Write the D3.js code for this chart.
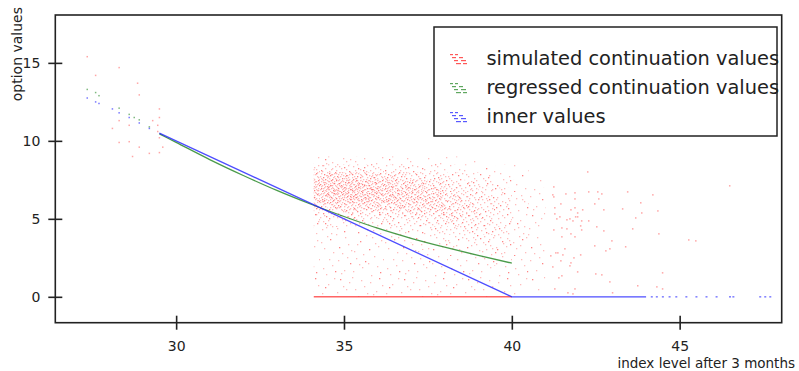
<!DOCTYPE html>
<html><head><meta charset="utf-8">
<script src="https://cdn.jsdelivr.net/npm/d3@7"></script>
<style>body{margin:0;background:#fff} svg{display:block} text{font-family:"DejaVu Sans",sans-serif;fill:#222}</style>
</head><body><svg id="c" width="799" height="371"></svg>
<script>
// ---------- data ----------
const xTicks = [30, 35, 40, 45];
const yTicks = [0, 5, 10, 15];
const xDomain = [26.4, 48.04];
const yDomain = [-1.66, 18.07];
const xLabel = "index level after 3 months";
const yLabel = "option values";
const legendLabels = ["simulated continuation values", "regressed continuation values", "inner values"];
const seriesColors = ["#ff2020", "#2a8a2a", "#2020ff"];

// density of simulated continuation values (estimated paths per 0.5 x 0.5 cell)
const cloudXEdges = [34.1, 34.5, 35, 35.5, 36, 36.5, 37, 37.5, 38, 38.5, 39, 39.5, 40, 40.5, 41];
const cloudYEdges = [0, 0.5, 1, 1.5, 2, 2.5, 3, 3.5, 4, 4.5, 5, 5.5, 6, 6.5, 7, 7.5, 8, 8.5, 9];
const cloudCounts = [
  [2,2,2,2,2,2,2,2,3,6,10,18,28,34,32,22,10,3],
  [2,2,2,2,2,2,2,2,3,6,10,20,30,36,34,24,10,3],
  [2,2,2,2,2,2,2,2,3,6,11,22,32,36,34,22,9,3],
  [2,2,2,2,2,2,2,2,3,6,11,22,32,34,30,20,8,2],
  [2,2,2,2,2,2,2,2,4,7,12,22,30,32,28,18,7,2],
  [2,2,2,2,2,2,2,3,4,8,13,22,28,28,24,14,6,2],
  [2,2,2,2,2,2,3,3,5,9,14,22,26,26,20,12,5,1],
  [2,2,2,2,2,2,3,4,6,10,16,22,24,22,16,10,4,1],
  [2,2,2,2,2,3,4,5,8,12,16,18,18,16,12,7,3,1],
  [2,2,2,2,2,3,4,6,8,11,13,14,14,12,9,5,2,1],
  [2,2,2,2,3,3,5,6,8,9,10,10,10,9,6,4,2,0],
  [1,2,2,2,3,4,5,6,6,7,7,7,7,6,4,3,1,0],
  [1,1,1,2,2,3,3,3,3,3,3,3,3,3,2,1,1,0],
  [1,1,1,1,2,2,2,2,2,2,2,2,2,2,1,1,0,0]
];
// isolated simulated continuation values
const simSparse = [
  [27.35,15.4],[28.3,14.7],[27.6,14.2],[28.85,13.7],[28.9,12.95],[29.5,12.05],[28.3,11.3],[29.3,11.3],
  [28.6,11.0],[28.1,10.8],[29.45,11.0],[29.5,11.5],[28.3,9.9],[28.6,9.95],[28.9,9.6],[29.5,10.2],
  [29.6,9.6],[29.5,9.25],[28.7,9.0],[29.2,9.2],[29.45,10.6],
  [42.26,8.01],[41.25,7.05],[41.22,6.54],[41.61,6.6],[41.88,6.67],[42.29,6.73],[42.56,6.73],[42.68,6.6],
  [43.45,6.73],[44.2,6.54],[46.49,7.12],[41.25,6.41],[41.46,5.96],[41.88,6.28],[42.47,5.96],[42.59,6.28],
  [41.28,5.71],[41.28,5.32],[41.34,5.0],[41.43,5.13],[41.76,5.58],[41.88,5.71],[41.96,5.38],[42.11,5.58],
  [42.74,5.58],[43.3,5.64],[43.84,6.03],[43.87,5.38],[44.35,5.51],[41.64,4.94],[41.73,5.0],[41.82,4.87],
  [41.9,5.13],[41.96,5.13],[42.08,4.87],[42.29,4.87],[43.69,5.06],[41.25,4.29],[41.49,4.42],[41.64,4.36],
  [41.76,4.04],[41.88,3.85],[42.05,4.55],[42.08,4.29],[42.53,4.49],[42.74,4.23],[43.6,4.36],[44.38,4.04],
  [41.49,3.85],[42.98,3.59],[45.27,3.65],[45.48,3.59],[42.47,3.27],[42.8,2.95],[42.92,3.08],[43.39,3.21],
  [41.58,3.08],[41.31,2.82],[41.37,2.82],[41.16,2.63],[41.52,2.69],[42.05,2.69],[41.85,2.5],[41.46,2.31],
  [41.76,2.18],[41.22,1.92],[41.73,1.99],[41.96,1.6],[42.5,1.47],[42.68,1.41],[44.49,1.54],[41.49,1.35],
  [41.4,1.22],[42.92,0.96],[43.75,0.71],[44.32,0.64],[44.49,0.51],[41.28,0.51],[41.88,0.51],[41.67,0.26],
  [41.82,0.19],[43.0,0.26]
];
const simZeroRange = [34.1, 40];           // paths with zero continuation value
const regressedLine = [[29.5,10.45],[30,9.9],[31,8.8],[32,7.78],[33,6.82],[34,5.95],[35,5.15],
  [36,4.4],[37,3.75],[38,3.18],[39,2.65],[40,2.16]];
const regressedSparse = [[27.35,13.3],[27.6,13.1],[27.7,12.9],[28.3,12.1],[28.6,11.7],[28.75,11.5],[28.9,11.35],[29.2,10.9]];
const innerLine = [[29.5,10.5],[40,0],[44.0,0]];
const innerSparse = [[27.35,12.75],[27.6,12.5],[27.7,12.4],[28.1,12.05],[28.3,11.8],[28.6,11.5],[28.9,11.15],[29.2,10.8]];
const innerZeroDots = [44.17,44.32,44.5,44.7,44.9,45.2,45.5,45.8,46.1,46.5,46.6,47.4,47.55,47.7];

// ---------- drawing ----------
const svg = d3.select("#c");
const m = {l: 55.3, r: 781.7, t: 15, b: 322.7};
const x = d3.scaleLinear().domain(xDomain).range([m.l, m.r]);
const y = d3.scaleLinear().domain(yDomain).range([m.b, m.t]);
const defs = svg.append("defs");

// speckle texture for the point cloud (Halton-sequence dot layout, purely stylistic)
const tile = 64;
function halton(i, b) { let f = 1, r = 0; while (i > 0) { f /= b; r += f * (i % b); i = Math.floor(i / b); } return r; }
const cellArea = (x(0.5) - x(0)) * (y(0) - y(0.5));
const patCache = {};
function pattern(count) {
  const n = Math.max(1, Math.round(count / cellArea * tile * tile));
  if (patCache[n]) return patCache[n];
  const id = "sp" + n;
  const p = defs.append("pattern").attr("id", id).attr("patternUnits", "userSpaceOnUse")
    .attr("x", 0).attr("y", 0).attr("width", tile).attr("height", tile);
  for (let k = 1; k <= n; k++) {
    const px = Math.floor(halton(k, 2) * tile);
    const py = Math.floor(halton(k, 3) * tile);
    const op = halton(k, 5) < 0.2 ? 0.55 : 0.3;
    p.append("rect").attr("x", px).attr("y", py).attr("width", 1.3).attr("height", 1.3)
      .attr("fill", seriesColors[0]).attr("fill-opacity", op);
  }
  patCache[n] = "url(#" + id + ")";
  return patCache[n];
}

const plot = svg.append("g");
cloudCounts.forEach((col, i) => {
  col.forEach((c, j) => {
    if (c <= 0) return;
    plot.append("rect")
      .attr("x", x(cloudXEdges[i])).attr("width", x(cloudXEdges[i + 1]) - x(cloudXEdges[i]))
      .attr("y", y(cloudYEdges[j + 1])).attr("height", y(cloudYEdges[j]) - y(cloudYEdges[j + 1]))
      .attr("fill", pattern(c));
  });
});
plot.selectAll(".sim").data(simSparse).join("rect")
  .attr("x", d => x(d[0]) - 0.7).attr("y", d => y(d[1]) - 0.7)
  .attr("width", 1.5).attr("height", 1.5).attr("fill", seriesColors[0]).attr("fill-opacity", 0.4);
plot.append("line").attr("x1", x(simZeroRange[0])).attr("x2", x(simZeroRange[1]))
  .attr("y1", y(0)).attr("y2", y(0)).attr("stroke", "#ff4a4a").attr("stroke-width", 1.6).attr("stroke-opacity", 0.85);

const line = d3.line().x(d => x(d[0])).y(d => y(d[1])).curve(d3.curveMonotoneX);
plot.append("path").datum(regressedLine).attr("d", line).attr("fill", "none")
  .attr("stroke", seriesColors[1]).attr("stroke-width", 1.3).attr("stroke-opacity", 0.85);
plot.selectAll(".reg").data(regressedSparse).join("rect")
  .attr("x", d => x(d[0]) - 0.7).attr("y", d => y(d[1]) - 0.7)
  .attr("width", 1.5).attr("height", 1.5).attr("fill", seriesColors[1]).attr("fill-opacity", 0.6);
plot.append("path").datum(innerLine).attr("d", d3.line().x(d => x(d[0])).y(d => y(d[1])))
  .attr("fill", "none").attr("stroke", seriesColors[2]).attr("stroke-width", 1.3).attr("stroke-opacity", 0.8);
plot.selectAll(".inn").data(innerSparse).join("rect")
  .attr("x", d => x(d[0]) - 0.7).attr("y", d => y(d[1]) - 0.7)
  .attr("width", 1.5).attr("height", 1.5).attr("fill", seriesColors[2]).attr("fill-opacity", 0.6);
plot.selectAll(".inz").data(innerZeroDots).join("rect")
  .attr("x", d => x(d) - 1).attr("y", y(0) - 0.8)
  .attr("width", 2).attr("height", 1.6).attr("fill", seriesColors[2]).attr("fill-opacity", 0.55);

// frame
svg.append("rect").attr("x", m.l).attr("y", m.t).attr("width", m.r - m.l).attr("height", m.b - m.t)
  .attr("fill", "none").attr("stroke", "#222").attr("stroke-width", 1.6);

// axes (ticks crossing the frame)
const xAxis = svg.append("g").attr("transform", `translate(0,${m.b})`)
  .call(d3.axisBottom(x).tickValues(xTicks).tickSize(7).tickPadding(11).tickFormat(d3.format("d")));
const yAxis = svg.append("g").attr("transform", `translate(${m.l},0)`)
  .call(d3.axisLeft(y).tickValues(yTicks).tickSize(7).tickPadding(8).tickFormat(d3.format("d")));
[xAxis, yAxis].forEach(a => {
  a.select(".domain").remove();
  a.selectAll(".tick line").attr("stroke", "#222").attr("stroke-width", 1.6);
  a.selectAll(".tick text").attr("font-size", 14).attr("fill", "#222").attr("font-family", '"DejaVu Sans",sans-serif');
});
xAxis.selectAll(".tick line").attr("y1", -7);
yAxis.selectAll(".tick line").attr("x1", 7);

svg.append("text").attr("x", 795).attr("y", 368).attr("text-anchor", "end").attr("font-size", 13.5).text(xLabel);
svg.append("text").attr("transform", "translate(22,7) rotate(-90)").attr("text-anchor", "end")
  .attr("font-size", 14).text(yLabel);

// legend
const lg = svg.append("g");
lg.append("rect").attr("x", 434).attr("y", 27).attr("width", 343).attr("height", 109)
  .attr("fill", "#fff").attr("stroke", "#222").attr("stroke-width", 1.5);
const glyph = [[0,-5,3],[5,-5,3],[2,-2,4],[9,-2,4],[4,1,4],[11,1,5],[6,4,5],[13,4,4]];
legendLabels.forEach((lab, i) => {
  const cy = 59 + i * 29;
  glyph.forEach(g => lg.append("rect").attr("x", 450 + g[0]).attr("y", cy + g[1]).attr("width", g[2]).attr("height", 1.2)
    .attr("fill", seriesColors[i]).attr("fill-opacity", 0.75));
  lg.append("text").attr("x", 486.5).attr("y", cy + 5.5).attr("font-size", 19.4).text(lab);
});
</script></body></html>
